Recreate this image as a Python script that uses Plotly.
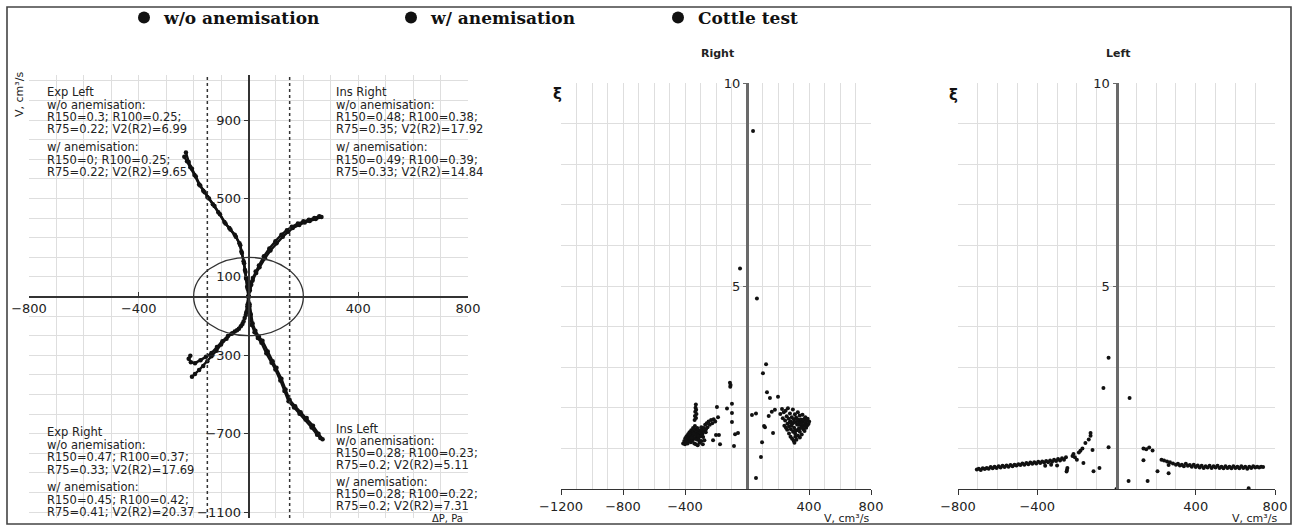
import plotly.graph_objects as go

W, H = 1294, 526

# ---------------- data: left panel (flow V vs pressure dP) ----------------
# Exp Left (upper-left quadrant)
expL_wo_x = [0, -5, -9, -13, -18, -26, -33, -50, -70, -88, -110, -130, -150, -165, -180, -197, -212, -224, -234]
expL_wo_y = [0, 50, 95, 135, 180, 230, 272, 315, 350, 380, 430, 470, 508, 540, 572, 620, 660, 690, 713]
expL_w_x = [0, -3, -7, -11, -16, -24, -30, -46, -66, -84, -104, -124, -144, -160, -176, -192, -206, -218, -228]
expL_w_y = [0, 40, 88, 125, 170, 222, 262, 305, 342, 372, 420, 462, 500, 532, 566, 612, 652, 686, 735]
# Ins Right (upper-right quadrant)
insR_wo_x = [0, 5, 10, 15, 28, 40, 60, 80, 102, 125, 145, 161, 185, 205, 223, 245, 266]
insR_wo_y = [0, 30, 60, 82, 120, 149, 195, 235, 272, 305, 330, 349, 365, 378, 385, 395, 405]
insR_w_x = [0, 4, 9, 16, 26, 38, 56, 76, 98, 120, 140, 158, 180, 200, 220, 240, 258]
insR_w_y = [0, 40, 70, 95, 128, 158, 205, 245, 282, 315, 338, 356, 372, 384, 392, 400, 410]
# Exp Right (lower-left quadrant)
expR_wo_x = [0, -3, -8, -14, -22, -35, -50, -62, -80, -100, -117, -135, -150, -165, -180, -195, -206]
expR_wo_y = [0, -40, -80, -110, -140, -165, -178, -190, -215, -245, -277, -305, -330, -355, -375, -395, -410]
expR_w_x = [0, -4, -10, -18, -28, -42, -58, -75, -95, -115, -135, -155, -175, -195, -210, -218, -212]
expR_w_y = [0, -50, -95, -128, -152, -172, -188, -202, -228, -258, -288, -308, -325, -340, -335, -318, -302]
# Ins Left (lower-right quadrant)
insL_wo_x = [0, 4, 8, 15, 25, 38, 51, 70, 88, 102, 120, 135, 150, 170, 190, 212, 235, 255, 270]
insL_wo_y = [0, -40, -90, -138, -175, -205, -226, -280, -330, -364, -420, -475, -528, -560, -590, -620, -660, -700, -728]
insL_w_x = [0, 3, 6, 12, 22, 34, 47, 65, 84, 98, 116, 131, 146, 166, 186, 208, 230, 250, 262]
insL_w_y = [0, -50, -100, -145, -182, -212, -236, -290, -338, -372, -428, -482, -535, -566, -598, -628, -668, -705, -722]

circle_r = 200          # reference circle radius
r_lines = [-150, 150]   # R150 pressure lines

# ---------------- data: "Right" panel (xi vs V) ----------------
right_pts = [
    (-412, 1.12), (-405, 1.18), (-400, 1.10), (-398, 1.25), (-393, 1.16), (-390, 1.30), (-386, 1.22),
    (-383, 1.12), (-380, 1.35), (-377, 1.27), (-374, 1.19), (-371, 1.40), (-368, 1.32), (-365, 1.24),
    (-362, 1.15), (-360, 1.45), (-357, 1.37), (-354, 1.28), (-351, 1.20), (-348, 1.50), (-345, 1.42),
    (-342, 1.33), (-339, 1.25), (-336, 1.55), (-333, 1.46), (-330, 1.38), (-327, 1.30), (-324, 1.22),
    (-321, 1.50), (-318, 1.42), (-315, 1.35), (-312, 1.27), (-309, 1.19), (-305, 1.45), (-302, 1.38),
    (-298, 1.30), (-295, 1.52), (-291, 1.44), (-287, 1.36), (-283, 1.28), (-279, 1.50), (-275, 1.43),
    (-270, 1.58), (-265, 1.47), (-260, 1.62), (-255, 1.52), (-248, 1.66), (-240, 1.58), (-232, 1.70),
    (-224, 1.62), (-215, 1.72), (-205, 1.66),
    (-338, 1.70), (-336, 1.80), (-334, 1.90), (-332, 2.00), (-330, 2.08), (-328, 1.95), (-326, 1.85),
    (-329, 1.75), (-340, 1.12), (-330, 1.10), (-318, 1.08), (-305, 1.14), (-295, 1.18), (-285, 1.10),
    (-275, 1.20), (-372, 1.33), (-358, 1.26), (-344, 1.36), (-316, 1.31), (-292, 1.33), (-266, 1.40),
    (-194, 2.02), (-129, 1.98), (-187, 1.77), (-97, 1.87), (-97, 1.65), (-97, 2.10), (-110, 2.62),
    (-108, 2.52), (-106, 2.56), (-58, 1.38), (-77, 1.35), (-84, 1.06), (-174, 1.10), (-219, 1.20),
    (-200, 1.33), (-181, 1.33), (-45, 5.43), (64, 4.69), (39, 8.82),
    (123, 3.07), (103, 2.85), (129, 2.38), (148, 2.24), (200, 2.27), (58, 1.86), (32, 1.82),
    (116, 1.52), (97, 1.15), (90, 0.79), (58, 0.27), (168, 1.38), (110, 1.55), (160, 1.90),
    (180, 1.95), (140, 1.80),
    (215, 1.85), (226, 1.97), (231, 1.74), (237, 1.89), (246, 1.69), (249, 1.93), (256, 1.79),
    (261, 1.61), (264, 1.99), (269, 1.73), (271, 1.54), (277, 1.86), (281, 1.67), (283, 1.47),
    (289, 1.77), (291, 1.61), (296, 1.96), (297, 1.41), (303, 1.71), (304, 1.51), (309, 1.84),
    (311, 1.37), (316, 1.65), (317, 1.76), (322, 1.45), (323, 1.59), (328, 1.89), (329, 1.31),
    (334, 1.67), (335, 1.49), (340, 1.81), (341, 1.41), (346, 1.63), (347, 1.71), (352, 1.56),
    (353, 1.34), (358, 1.83), (359, 1.66), (364, 1.47), (365, 1.71), (370, 1.57), (371, 1.43),
    (376, 1.77), (377, 1.63), (382, 1.51), (383, 1.69), (389, 1.57), (391, 1.73), (397, 1.61),
    (401, 1.66), (281, 1.29), (291, 1.24), (301, 1.19), (306, 1.14), (271, 1.37), (259, 1.46),
    (251, 1.51), (241, 1.56), (341, 1.27), (319, 1.21), (312, 1.29), (286, 1.56), (332, 1.58),
    (355, 1.61), (300, 1.63), (326, 1.72), (360, 1.52), (275, 1.64), (345, 1.50), (310, 1.45),
]
right_v = [p[0] for p in right_pts]
right_xi = [p[1] for p in right_pts]

# ---------------- data: "Left" panel (xi vs V) ----------------
left_pts = [
    (-705, 0.48), (-695, 0.50), (-685, 0.47), (-675, 0.51), (-665, 0.49), (-655, 0.52), (-645, 0.50),
    (-635, 0.54), (-625, 0.51), (-615, 0.55), (-605, 0.52), (-595, 0.56), (-585, 0.53), (-575, 0.57),
    (-565, 0.54), (-555, 0.58), (-545, 0.55), (-535, 0.59), (-525, 0.56), (-515, 0.60), (-505, 0.58),
    (-495, 0.61), (-485, 0.59), (-475, 0.63), (-465, 0.60), (-455, 0.64), (-445, 0.61), (-435, 0.65),
    (-425, 0.62), (-415, 0.66), (-405, 0.63), (-395, 0.67), (-385, 0.64), (-375, 0.68), (-365, 0.65),
    (-355, 0.69), (-345, 0.66), (-335, 0.70), (-325, 0.67), (-315, 0.72), (-305, 0.69), (-295, 0.74),
    (-285, 0.70), (-275, 0.76), (-265, 0.72), (-255, 0.78), (-250, 0.47), (-252, 0.43), (-248, 0.52),
    (-300, 0.58), (-330, 0.60), (-360, 0.57),
    (-222, 0.81), (-217, 0.86), (-182, 0.94), (-172, 1.00), (-157, 1.13), (-131, 1.31), (-131, 1.38),
    (-121, 0.96), (-40, 1.03), (-167, 0.64), (-86, 0.52), (-116, 0.44), (-66, 2.49), (-40, 3.23),
    (-200, 0.72), (-210, 0.78), (-140, 1.22), (-190, 0.90),
    (66, 2.24), (61, 0.20), (157, 0.20), (136, 1.00), (150, 0.98), (165, 1.02), (182, 0.95),
    (136, 0.71), (207, 0.44), (263, 0.39), (263, 0.59), (227, 0.72), (240, 0.70), (255, 0.68),
    (270, 0.66), (285, 0.63), (300, 0.60), (310, 0.62), (320, 0.58),
    (330, 0.60), (340, 0.56), (350, 0.62), (360, 0.57), (370, 0.59), (380, 0.55), (390, 0.60),
    (400, 0.54), (410, 0.58), (420, 0.53), (430, 0.57), (440, 0.52), (450, 0.56), (460, 0.53),
    (470, 0.57), (480, 0.52), (490, 0.56), (500, 0.53), (510, 0.57), (520, 0.52), (530, 0.55),
    (540, 0.51), (550, 0.56), (560, 0.52), (570, 0.55), (580, 0.51), (590, 0.56), (600, 0.52),
    (610, 0.55), (620, 0.51), (630, 0.56), (640, 0.52), (650, 0.55), (660, 0.50), (670, 0.55),
    (680, 0.52), (690, 0.56), (700, 0.53), (710, 0.55), (720, 0.53), (730, 0.55), (740, 0.54),
    (667, 0.02), (0, 0.0),
]
left_v = [p[0] for p in left_pts]
left_xi = [p[1] for p in left_pts]

# ---------------- tick labels ----------------
p1_xticks = [-800, -400, 400, 800]
p1_yticks = [900, 500, 100, -300, -700, -1100]
p2_xticks = [-1200, -800, -400, 400, 800]
p3_xticks = [-800, -400, 400, 800]
xi_ticks = [5, 10]

legend_names = ["w/o anemisation", "w/ anemisation", "Cottle test"]

text_blocks = {
    "tl": ["Exp Left", "w/o anemisation:", "R150=0.3; R100=0.25;", "R75=0.22; V2(R2)=6.99",
           "w/ anemisation:", "R150=0; R100=0.25;", "R75=0.22; V2(R2)=9.65"],
    "tr": ["Ins Right", "w/o anemisation:", "R150=0.48; R100=0.38;", "R75=0.35; V2(R2)=17.92",
           "w/ anemisation:", "R150=0.49; R100=0.39;", "R75=0.33; V2(R2)=14.84"],
    "bl": ["Exp Right", "w/o anemisation:", "R150=0.47; R100=0.37;", "R75=0.33; V2(R2)=17.69",
           "w/ anemisation:", "R150=0.45; R100=0.42;", "R75=0.41; V2(R2)=20.37"],
    "br": ["Ins Left", "w/o anemisation:", "R150=0.28; R100=0.23;", "R75=0.2; V2(R2)=5.11",
           "w/ anemisation:", "R150=0.28; R100=0.22;", "R75=0.2; V2(R2)=7.31"],
}

# ---------------- styling / layout helpers ----------------
INK = "#111111"
AX = "#333333"
AX2 = "#6a6a6a"
GRID = "#dedede"
TICKFONT = dict(family="DejaVu Sans", size=13, color="#222222")

def px_x(p):
    return p / W

def px_y(p):
    return 1 - p / H

d1x = [px_x(29), px_x(468)]
d1y = [px_y(518), px_y(75)]
d2x = [px_x(561), px_x(871)]
d3x = [px_x(958), px_x(1275)]
d23y = [px_y(489), px_y(83)]
r1x = [-800, 800]
r1y = [-1130, 1130]
r2x = [-1200, 800]
r3x = [-800, 800]
r23y = [0, 10]

def zero_pos(dom, rng):
    return dom[0] + (0 - rng[0]) / (rng[1] - rng[0]) * (dom[1] - dom[0])

fig = go.Figure()

curves = [
    (expL_wo_x, expL_wo_y, expL_w_x, expL_w_y),
    (insR_wo_x, insR_wo_y, insR_w_x, insR_w_y),
    (expR_wo_x, expR_wo_y, expR_w_x, expR_w_y),
    (insL_wo_x, insL_wo_y, insL_w_x, insL_w_y),
]
for i, (ax_, ay_, bx_, by_) in enumerate(curves):
    for (cx, cy, name) in [(ax_, ay_, legend_names[0]), (bx_, by_, legend_names[1])]:
        fig.add_trace(go.Scatter(x=cx, y=cy, mode="lines", line=dict(color=INK, width=2.4),
                                 legendgroup=name, showlegend=False, hoverinfo="skip",
                                 xaxis="x", yaxis="y"))
        fig.add_trace(go.Scatter(x=cx, y=cy, mode="markers", name=name,
                                 marker=dict(color=INK, size=4.5),
                                 legendgroup=name, showlegend=(i == 0),
                                 xaxis="x", yaxis="y"))

fig.add_trace(go.Scatter(x=right_v, y=right_xi, mode="markers", name=legend_names[2],
                         legendgroup=legend_names[2], showlegend=True,
                         marker=dict(color=INK, size=4),
                         xaxis="x2", yaxis="y2"))
fig.add_trace(go.Scatter(x=left_v, y=left_xi, mode="markers", name=legend_names[2],
                         legendgroup=legend_names[2], showlegend=False,
                         marker=dict(color=INK, size=4),
                         xaxis="x3", yaxis="y3"))

minor_x = dict(tickmode="linear", tick0=0, dtick=100, showgrid=True, gridcolor=GRID, gridwidth=1, ticks="")
minor_y1 = dict(tickmode="linear", tick0=0, dtick=100, showgrid=True, gridcolor=GRID, ticks="")
minor_xi = dict(tickmode="linear", tick0=0, dtick=1, showgrid=True, gridcolor=GRID, ticks="")

common = dict(automargin=False, zeroline=False, showgrid=True, gridcolor=GRID,
              tickmode="array", tickfont=TICKFONT)

fig.update_layout(
    width=W, height=H,
    margin=dict(l=0, r=0, t=0, b=0, pad=0, autoexpand=False),
    paper_bgcolor="white", plot_bgcolor="white",
    showlegend=True,
    legend=dict(orientation="h", x=px_x(124), y=px_y(0), xanchor="left", yanchor="top",
                font=dict(family="DejaVu Serif", size=17, color="#111111", weight="bold"),
                itemsizing="constant", entrywidth=222, entrywidthmode="pixels",
                bgcolor="rgba(0,0,0,0)", tracegroupgap=0),
    xaxis=dict(domain=d1x, range=r1x, anchor="free", position=zero_pos(d1y, r1y),
               showline=True, linecolor=AX, linewidth=1.6,
               tickvals=p1_xticks, ticks="inside", ticklen=4, tickcolor=AX,
               minor=minor_x, **common),
    yaxis=dict(domain=d1y, range=r1y, anchor="free", position=zero_pos(d1x, r1x),
               showline=True, linecolor=AX, linewidth=1.6,
               tickvals=p1_yticks, ticks="outside", ticklen=4, tickcolor=AX,
               minor=minor_y1, **common),
    xaxis2=dict(domain=d2x, range=r2x, anchor="y2",
                showline=True, linecolor=AX, linewidth=1.4,
                tickvals=p2_xticks, ticks="outside", ticklen=5, tickcolor=AX,
                minor=minor_x, **common),
    yaxis2=dict(domain=d23y, range=r23y, anchor="free", position=zero_pos(d2x, r2x),
                showline=True, linecolor=AX2, linewidth=3,
                tickvals=xi_ticks, ticks="outside", ticklen=3, tickcolor=AX2,
                minor=minor_xi, **common),
    xaxis3=dict(domain=d3x, range=r3x, anchor="y3",
                showline=True, linecolor=AX, linewidth=1.4,
                tickvals=p3_xticks, ticks="outside", ticklen=5, tickcolor=AX,
                minor=minor_x, **common),
    yaxis3=dict(domain=d23y, range=r23y, anchor="free", position=zero_pos(d3x, r3x),
                showline=True, linecolor=AX2, linewidth=3,
                tickvals=xi_ticks, ticks="outside", ticklen=3, tickcolor=AX2,
                minor=minor_xi, **common),
)

# shapes: reference circle, R150 lines, outer frame
shapes = [dict(type="circle", xref="x", yref="y", x0=-circle_r, x1=circle_r, y0=-circle_r, y1=circle_r,
               line=dict(color=AX, width=1.3))]
for xv in r_lines:
    shapes.append(dict(type="line", xref="x", yref="y domain", x0=xv, x1=xv, y0=0, y1=1,
                       line=dict(color=AX, width=1.5, dash="dot")))
shapes.append(dict(type="rect", xref="paper", yref="paper", x0=px_x(7), x1=px_x(1291),
                   y0=px_y(524), y1=px_y(7), line=dict(color="#444444", width=1.6)))
fig.update_layout(shapes=shapes)

# annotations
ann = []
TXT = dict(family="DejaVu Sans", size=11.5, color="#222222")
offsets = [0, 12.5, 25, 37.5, 55, 67.5, 79.5]
offsets_br = [0, 12.1, 24.2, 36.3, 52.5, 64.6, 76.5]
anchors = {"tl": (45, 92), "tr": (334, 92), "bl": (45, 432), "br": (334, 429)}
for key, lines in text_blocks.items():
    x0, y0 = anchors[key]
    offs = offsets_br if key == "br" else offsets
    for ln, off in zip(lines, offs):
        ann.append(dict(xref="paper", yref="paper", x=px_x(x0), y=px_y(y0 + off), text=ln,
                        showarrow=False, xanchor="left", yanchor="middle", font=TXT))

ann += [
    dict(xref="paper", yref="paper", x=px_x(447), y=px_y(518.5), text="ΔP, Pa", showarrow=False,
         xanchor="center", yanchor="middle", font=dict(family="DejaVu Sans", size=10, color="#222")),
    dict(xref="paper", yref="paper", x=px_x(20), y=px_y(95), text="V, cm³/s", showarrow=False,
         textangle=-90, xanchor="center", yanchor="middle",
         font=dict(family="DejaVu Sans", size=11, color="#222")),
    dict(xref="paper", yref="paper", x=px_x(717), y=px_y(54), text="<b>Right</b>", showarrow=False,
         xanchor="center", yanchor="middle", font=dict(family="DejaVu Sans", size=11, color="#222")),
    dict(xref="paper", yref="paper", x=px_x(1118), y=px_y(54), text="<b>Left</b>", showarrow=False,
         xanchor="center", yanchor="middle", font=dict(family="DejaVu Sans", size=11, color="#222")),
    dict(xref="paper", yref="paper", x=px_x(557), y=px_y(94), text="<b>ξ</b>", showarrow=False,
         xanchor="center", yanchor="middle", font=dict(family="DejaVu Sans", size=15, color="#111")),
    dict(xref="paper", yref="paper", x=px_x(953), y=px_y(95), text="<b>ξ</b>", showarrow=False,
         xanchor="center", yanchor="middle", font=dict(family="DejaVu Sans", size=15, color="#111")),
    dict(xref="paper", yref="paper", x=px_x(846), y=px_y(518), text="V, cm³/s", showarrow=False,
         xanchor="center", yanchor="middle", font=dict(family="DejaVu Sans", size=11, color="#222")),
    dict(xref="paper", yref="paper", x=px_x(1254), y=px_y(518), text="V, cm³/s", showarrow=False,
         xanchor="center", yanchor="middle", font=dict(family="DejaVu Sans", size=11, color="#222")),
]
fig.update_layout(annotations=ann)

fig.write_html("out.html")
